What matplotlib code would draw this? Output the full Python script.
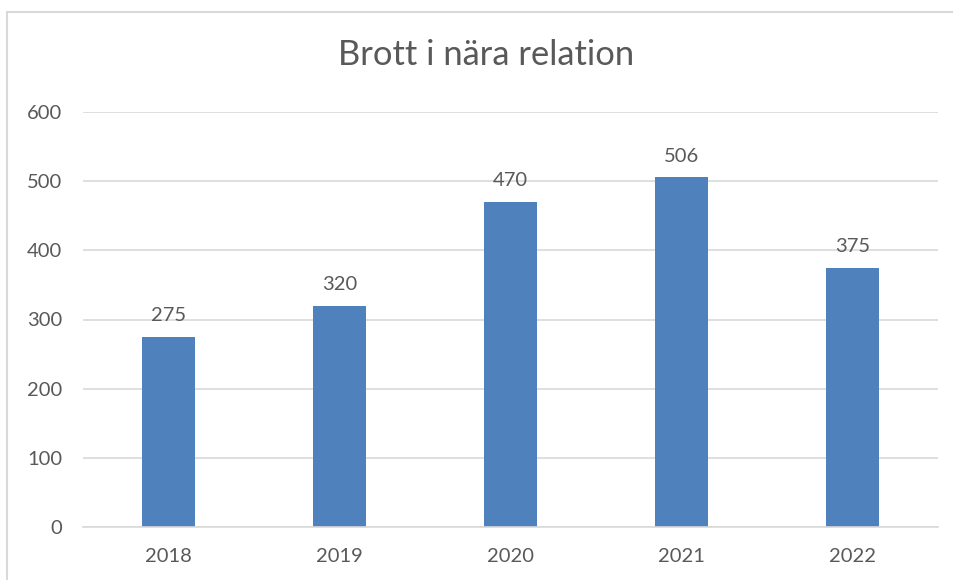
import matplotlib.pyplot as plt
from matplotlib.patches import Rectangle

# data
years = ["2018", "2019", "2020", "2021", "2022"]
counts = [275, 320, 470, 506, 375]
y_ticks = [0, 100, 200, 300, 400, 500, 600]

bar_color = "#4F81BD"
text_color = "#595959"
grid_color = "#D9D9D9"

plt.rcParams['font.family'] = ['Lato', 'DejaVu Sans']

fig = plt.figure(figsize=(9.54, 5.8), dpi=100)

# chart frame (cropped at right and bottom like the screenshot)
fig.patches.append(Rectangle((7 / 954, -0.05), 1.2, 1 - 12 / 580 + 0.05,
                             transform=fig.transFigure, fill=False,
                             edgecolor=grid_color, linewidth=1.5))

ax = fig.add_axes([83 / 954, 1 - 527 / 580, (938 - 83) / 954, (527 - 112) / 580])

x = range(len(years))
bars = ax.bar(x, counts, width=0.31, color=bar_color, zorder=3)

for xi, v in zip(x, counts):
    ax.annotate(str(v), (xi, v), xytext=(0, 9), textcoords="offset points",
                ha="center", va="bottom", fontsize=14.5, color=text_color)

ax.set_xlim(-0.5, len(years) - 0.5)
ax.set_ylim(0, 600)
ax.set_yticks(y_ticks)
ax.set_xticks(list(x))
ax.set_xticklabels(years)
ax.tick_params(axis="both", length=0, labelsize=14.5, labelcolor=text_color)
ax.tick_params(axis="y", pad=15)
ax.tick_params(axis="x", pad=15)
ax.grid(axis="y", color=grid_color, linewidth=1.2, zorder=0)
for side in ["top", "right", "left"]:
    ax.spines[side].set_visible(False)
ax.spines["bottom"].set_color(grid_color)
ax.spines["bottom"].set_linewidth(1.2)
ax.spines["bottom"].set_zorder(4)

fig.text(0.510, 1 - 55 / 580, "Brott i nära relation", ha="center", va="center",
         fontsize=24.8, color=text_color)

fig.savefig("out.png", dpi=100, facecolor="white")
